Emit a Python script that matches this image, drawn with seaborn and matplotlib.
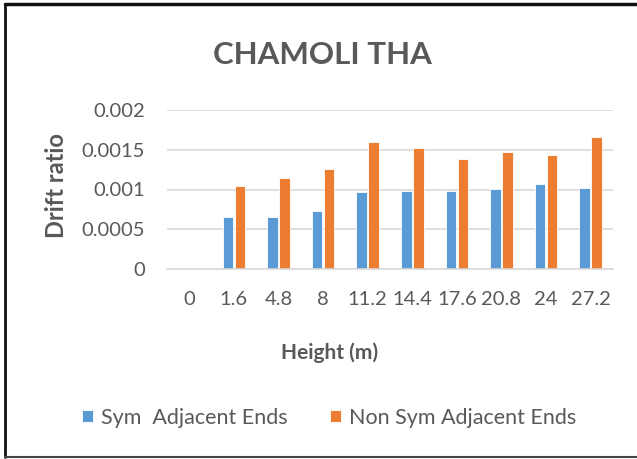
import numpy as np
import pandas as pd
import seaborn as sns
import matplotlib.pyplot as plt
from matplotlib.lines import Line2D

heights = ['0', '1.6', '4.8', '8', '11.2', '14.4', '17.6', '20.8', '24', '27.2']
sym = [0, 0.00066, 0.00066, 0.00073, 0.00097, 0.00098, 0.00098, 0.00101, 0.00107, 0.00102]
non_sym = [0, 0.00105, 0.00114, 0.00126, 0.00160, 0.00152, 0.00138, 0.00147, 0.00143, 0.00166]
series = ['Sym  Adjacent Ends', 'Non Sym Adjacent Ends']

df = pd.DataFrame({'Height': heights * 2,
                   'Drift': sym + non_sym,
                   'Series': [series[0]] * len(heights) + [series[1]] * len(heights)})

sns.set_style('white')
plt.rcParams['font.family'] = ['Lato', 'DejaVu Sans']
grey = '#595959'

fig = plt.figure(figsize=(6.37, 4.59), dpi=100)
ax = fig.add_axes([167 / 637, 1 - 269 / 459, 446 / 637, 159 / 459])

sns.barplot(data=df, x='Height', y='Drift', hue='Series', order=heights,
            palette=['#5B9BD5', '#ED7D31'], saturation=1, width=0.54, gap=0.12,
            edgecolor='white', linewidth=0.6, ax=ax)

ax.set_ylim(0, 0.002)
ax.set_yticks([0, 0.0005, 0.001, 0.0015, 0.002])
ax.set_yticklabels(['0', '0.0005', '0.001', '0.0015', '0.002'])
ax.yaxis.grid(True, color='#D9D9D9', linewidth=1.2)
ax.set_axisbelow(True)
for s in ['top', 'right', 'left']:
    ax.spines[s].set_visible(False)
ax.spines['bottom'].set_color('#D9D9D9')
ax.spines['bottom'].set_linewidth(1.2)
ax.tick_params(axis='y', length=0, pad=16, labelsize=14.5, labelcolor=grey)
ax.tick_params(axis='x', length=0, pad=16, labelsize=14.5, labelcolor=grey)

ax.set_xlabel('')
ax.set_ylabel('')
fig.text(322 / 637, 1 - 55 / 459, 'CHAMOLI THA', ha='center', va='center',
         fontsize=22.5, fontweight='bold', color=grey)
fig.text(57 / 637, 1 - 186 / 459, 'Drift ratio', ha='center', va='center',
         rotation=90, fontsize=17, fontweight='bold', color=grey)
fig.text(330 / 637, 1 - 353 / 459, 'Height (m)', ha='center', va='center',
         fontsize=15, fontweight='bold', color=grey)

handles, labels = ax.get_legend_handles_labels()
ax.get_legend().remove()
fig.legend(handles, labels, loc='center', bbox_to_anchor=(329 / 637, 1 - 418 / 459),
           ncol=2, frameon=False, fontsize=15.5, handlelength=0.5, handleheight=0.5,
           handletextpad=0.35, columnspacing=2.0, labelcolor=grey)

# chart frame
fig.add_artist(Line2D([5 / 637, 5 / 637], [1 - 457 / 459, 1 - 4 / 459], color='#111111', linewidth=2))
fig.add_artist(Line2D([5 / 637, 1], [1 - 4 / 459, 1 - 4 / 459], color='#111111', linewidth=2.5))
fig.add_artist(Line2D([5 / 637, 1], [1 - 457 / 459, 1 - 457 / 459], color='#444444', linewidth=1.5))

fig.savefig('out.png', dpi=100)
